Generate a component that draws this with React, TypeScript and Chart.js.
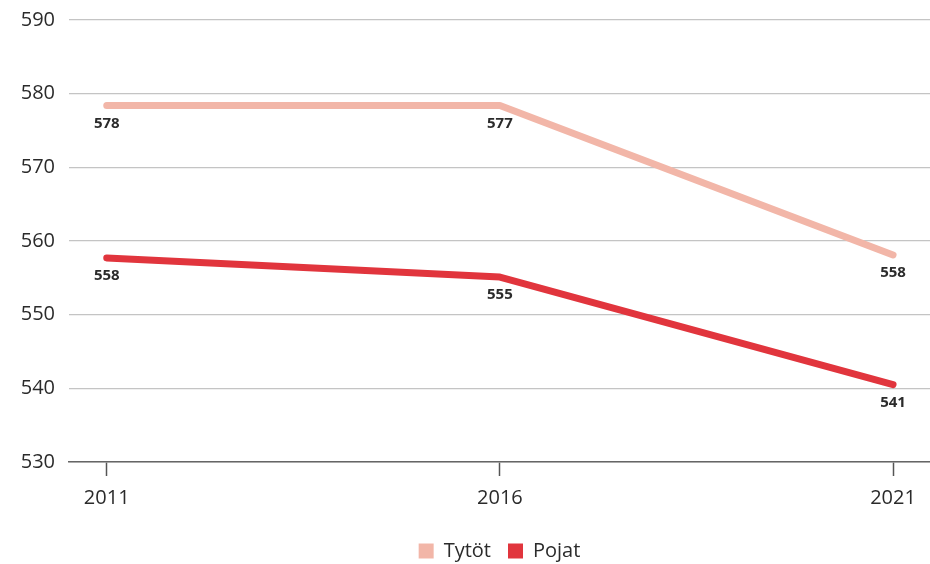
import React, { useEffect, useRef } from "react";
import { Chart, registerables } from "chart.js";

Chart.register(...registerables);

const years = [2011, 2016, 2021];
const tytotValues = [578.4, 578.4, 558.1];
const pojatValues = [557.7, 555.1, 540.5];
const tytotLabels = ["578", "577", "558"];
const pojatLabels = ["558", "555", "541"];
const yTicks = [530, 540, 550, 560, 570, 580, 590];

const FONT = "'Open Sans', 'Noto Sans', sans-serif";

const pointLabelPlugin = {
  id: "pointLabels",
  afterDatasetsDraw(chart: any) {
    const ctx = chart.ctx;
    const sets = [tytotLabels, pojatLabels];
    ctx.save();
    ctx.font = `bold 15px ${FONT}`;
    ctx.fillStyle = "#2b2b2b";
    ctx.textAlign = "center";
    ctx.textBaseline = "middle";
    chart.data.datasets.forEach((_: any, di: number) => {
      const meta = chart.getDatasetMeta(di);
      meta.data.forEach((pt: any, i: number) => {
        ctx.fillText(sets[di][i], pt.x, pt.y + 18);
      });
    });
    ctx.restore();
  },
};

export default function App() {
  const ref = useRef<HTMLCanvasElement>(null);
  useEffect(() => {
    if (!ref.current) return;
    const chart = new Chart(ref.current, {
      type: "line",
      data: {
        datasets: [
          {
            label: "Tytöt",
            data: years.map((x, i) => ({ x, y: tytotValues[i] })),
            borderColor: "#f2b6a8",
            backgroundColor: "#f2b6a8",
            borderWidth: 7,
            borderCapStyle: "round",
            borderJoinStyle: "round",
            pointRadius: 0,
            tension: 0,
          },
          {
            label: "Pojat",
            data: years.map((x, i) => ({ x, y: pojatValues[i] })),
            borderColor: "#e1353d",
            backgroundColor: "#e1353d",
            borderWidth: 7,
            borderCapStyle: "round",
            borderJoinStyle: "round",
            pointRadius: 0,
            tension: 0,
          },
        ],
      },
      options: {
        animation: false,
        responsive: false,
        maintainAspectRatio: false,
        layout: { padding: { top: 17, right: 0, left: 0, bottom: -7 } },
        plugins: {
          tooltip: { enabled: false },
          legend: {
            position: "bottom",
            fullSize: false,
            labels: {
              boxWidth: 15,
              boxHeight: 15,
              color: "#2b2b2b",
              font: { family: FONT, size: 20 },
              padding: 17,
              generateLabels: (c: any) =>
                Chart.defaults.plugins.legend.labels
                  .generateLabels(c)
                  .map((l: any) => ({ ...l, lineWidth: 0, strokeStyle: "rgba(0,0,0,0)" })),
            },
          },
        },
        scales: {
          x: {
            type: "linear",
            min: 2010.52,
            max: 2021.47,
            afterBuildTicks: (scale: any) => {
              scale.ticks = years.map((v) => ({ value: v }));
            },
            afterFit: (scale: any) => {
              scale.height = 62;
            },
            ticks: {
              color: "#2b2b2b",
              font: { family: FONT, size: 20 },
              padding: 10,
              callback: (v: any) => String(v),
            },
            grid: {
              drawOnChartArea: false,
              drawTicks: true,
              tickLength: 14,
              tickColor: "#555",
              tickWidth: 1.5,
            },
            border: { color: "#666", width: 1.5 },
          },
          y: {
            min: 530,
            max: 590,
            afterBuildTicks: (scale: any) => {
              scale.ticks = yTicks.map((v) => ({ value: v }));
            },
            afterFit: (scale: any) => {
              scale.width = 69;
            },
            ticks: {
              color: "#2b2b2b",
              font: { family: FONT, size: 20, lineHeight: 0.6 },
              padding: 14,
            },
            grid: {
              color: "#c4c4c4",
              lineWidth: 1.2,
              drawTicks: false,
            },
            border: { display: false },
          },
        },
      },
      plugins: [pointLabelPlugin],
    } as any);
    return () => chart.destroy();
  }, []);
  return (
    <div style={{ position: "fixed", left: 0, top: 0, width: 930, height: 564, background: "#fff" }}>
      <canvas ref={ref} width={930} height={564} style={{ width: 930, height: 564 }} />
    </div>
  );
}
